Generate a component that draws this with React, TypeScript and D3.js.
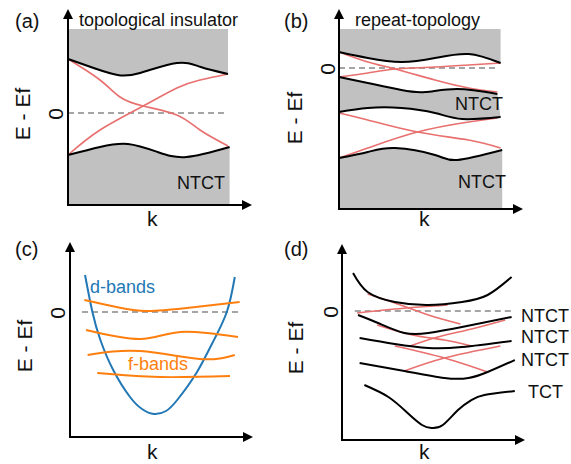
import React from 'react'
import * as d3 from 'd3'

type Pt = [number, number]

// (a) topological insulator — k from 0..10, E in units of 10px
const aUpper: Pt[] = [[0, 5.4], [1.6, 4.5], [3.1, 3.8], [4.5, 4.0], [6.8, 5.0], [8.3, 4.6], [10, 3.9]]
const aLower: Pt[] = [[0, -4.2], [2, -3.4], [3.75, -3.1], [5.6, -3.9], [7.4, -4.4], [10.1, -3.4]]
const aRed1: Pt[] = [[0, 5.4], [2, 3.3], [3.25, 1.6], [4.7, 0.7], [6.8, -0.2], [8.25, -1.7], [10, -3.3]]
const aRed2: Pt[] = [[0, -4.2], [2, -1.7], [4.7, 0.7], [6.8, 2.5], [8.25, 3.3], [10, 3.9]]

// (b) repeat-topology
const bBand1: Pt[] = [[0, 1.6], [1.8, 1.0], [3.9, 0.6], [6, 1.0], [8.1, 1.4], [10.1, 0.5]]
const bBand2: Pt[] = [[0, -0.9], [1.8, -1.5], [3.9, -2.2], [5.4, -2.4], [7.4, -2.1], [9.9, -2.6]]
const bBand3: Pt[] = [[0, -4.4], [1.8, -4.0], [3.9, -4.0], [6, -4.5], [7.7, -5.1], [10.1, -4.9]]
const bBand4: Pt[] = [[0, -9.0], [1.8, -8.4], [3.5, -8.0], [6, -8.7], [7.4, -9.2], [10.2, -8.2]]
const bRed1: Pt[] = [[0, 1.6], [1.8, 0.6], [3.5, -0.1], [6, -1.2], [8.1, -2.0], [9.9, -2.4]]
const bRed2: Pt[] = [[0, -0.9], [1.8, -0.5], [3.5, -0.1], [6, 0.1], [8.1, 0.3], [10.1, 0.5]]
const bRed3: Pt[] = [[0, -4.5], [1.8, -5.2], [4.9, -6.4], [8.1, -7.2], [10.1, -8.0]]
const bRed4: Pt[] = [[0, -9.0], [1.8, -8.0], [4.9, -6.4], [8.1, -5.4], [9.9, -5.0]]

// (c) d-bands and f-bands
const cDBand: Pt[] = [[0.94, 3.7], [1.4, 0], [1.9, -2.8], [2.7, -5.8], [3.75, -8.5], [4.5, -9.7], [5.25, -10.2], [6.0, -9.9], [6.7, -8.8], [7.9, -6.1], [8.9, -3.1], [9.8, 0], [10.3, 3.5]]
const cFBand1: Pt[] = [[0.9, 1.2], [2.9, 0.5], [4.8, 0.1], [7.3, 0.4], [10.6, 1.0]]
const cFBand2: Pt[] = [[1, -1.8], [4.4, -2.7], [6.9, -2.0], [10.5, -2.5]]
const cFBand3: Pt[] = [[1.1, -4.3], [4.4, -3.9], [8.1, -4.7], [10.3, -4.3]]
const cFBand4: Pt[] = [[1.7, -6.1], [5.6, -6.5], [10, -6.4]]

// (d) stacked bands
const dBand1: Pt[] = [[0.69, 3.8], [1.6, 1.9], [3.3, 0.9], [5.4, 0.6], [7.5, 0.9], [9.1, 1.6], [10.6, 3.4]]
const dBand2: Pt[] = [[1, -0.4], [2.25, -1.2], [3.9, -2.2], [5.4, -2.2], [7.5, -1.6], [10.6, -0.6]]
const dBand3: Pt[] = [[1.1, -2.7], [3.3, -3.3], [5.4, -3.7], [7.5, -3.6], [10.6, -3.0]]
const dBand4: Pt[] = [[1.1, -5.2], [3.9, -6.0], [6.4, -6.7], [7.9, -6.7], [9.1, -6.1], [10.8, -4.9]]
const dBand5: Pt[] = [[1.4, -7.4], [2.9, -8.6], [4.1, -10.2], [5.0, -11.4], [5.6, -11.7], [6.3, -11.4], [7.25, -9.9], [8.1, -8.9], [8.9, -8.4], [10.8, -8.0]]
const dRed1: Pt[] = [[1.6, 1.7], [3.3, 0.8], [5.4, -0.4], [7.4, -1.3]]
const dRed2: Pt[] = [[0.94, -0.2], [3.3, 0.2], [6.6, 0.6]]
const dRed3: Pt[] = [[2.2, -1.4], [4.4, -2.4], [6.4, -2.9], [8.1, -3.5]]
const dRed4: Pt[] = [[4.25, -3.5], [6, -2.6], [8.1, -1.8], [10.2, -0.9]]
const dRed5: Pt[] = [[3.3, -3.5], [6.4, -4.7], [9.1, -6.1]]
const dRed6: Pt[] = [[3.9, -6.0], [6.4, -4.7], [9.9, -3.5]]
const dLabels = ['NTCT', 'NTCT', 'NTCT', 'TCT']

const FONT = 'Liberation Sans, Arial, sans-serif'
const GRAY = '#c1c1c1'
const RED = '#e8706f'
const BLUE = '#2277b5'
const ORANGE = '#ff7f0e'
const CURVE = d3.curveNatural

type Layout = { ax: number; zero: number; top: number; bottom: number; xEnd: number }

const makeScales = (l: Layout) => {
  const x = d3.scaleLinear().domain([0, 10]).range([l.ax, l.ax + 160])
  const y = d3.scaleLinear().domain([0, 1]).range([l.zero, l.zero - 10])
  const line = d3.line<Pt>().x(d => x(d[0])).y(d => y(d[1])).curve(CURVE)
  return { x, y, line }
}

const Axes = ({ l }: { l: Layout }) => (
  <g>
    <line x1={l.ax} y1={l.bottom} x2={l.ax} y2={l.top + 8} stroke="#000" strokeWidth={2} />
    <polygon points={`${l.ax},${l.top} ${l.ax - 5},${l.top + 10} ${l.ax + 5},${l.top + 10}`} fill="#000" />
    <line x1={l.ax - 1} y1={l.bottom} x2={l.xEnd - 8} y2={l.bottom} stroke="#000" strokeWidth={2} />
    <polygon points={`${l.xEnd},${l.bottom} ${l.xEnd - 10},${l.bottom - 5} ${l.xEnd - 10},${l.bottom + 5}`} fill="#000" />
  </g>
)

const YLabels = ({ l, ex, ey, zx }: { l: Layout; ex: number; ey: number; zx: number }) => (
  <g fontFamily={FONT} fontSize={21} fill="#111" textAnchor="middle">
    <text transform={`translate(${ex},${ey}) rotate(-90)`}>E - Ef</text>
    <text transform={`translate(${zx},${l.zero + 1}) rotate(-90)`}>0</text>
  </g>
)

const Dashed = ({ x, y, k0, k1 }: { x: any; y: any; k0: number; k1: number }) => (
  <line x1={x(k0)} x2={x(k1)} y1={y(0)} y2={y(0)} stroke="#888" strokeWidth={1.6} strokeDasharray="6,4" />
)

const PanelA = () => {
  const l: Layout = { ax: 68, zero: 113, top: 9, bottom: 205, xEnd: 252 }
  const { x, y, line } = makeScales(l)
  const topArea = d3.area<Pt>().x(d => x(d[0])).y0(y(8.4)).y1(d => y(d[1])).curve(CURVE)
  const botArea = d3.area<Pt>().x(d => x(d[0])).y0(d => y(d[1])).y1(l.bottom).curve(CURVE)
  return (
    <g>
      <path d={topArea(aUpper) || ''} fill={GRAY} />
      <path d={botArea(aLower) || ''} fill={GRAY} />
      <Dashed x={x} y={y} k0={0} k1={9.8} />
      {[aRed1, aRed2].map((d, i) => <path key={i} d={line(d) || ''} fill="none" stroke={RED} strokeWidth={1.6} />)}
      {[aUpper, aLower].map((d, i) => <path key={i} d={line(d) || ''} fill="none" stroke="#000" strokeWidth={2} />)}
      <Axes l={l} />
      <YLabels l={l} ex={30} ey={114} zx={63} />
      <g fontFamily={FONT} fill="#111">
        <text x={15} y={28} fontSize={20}>(a)</text>
        <text x={79} y={26} fontSize={18}>topological insulator</text>
        <text x={177} y={189} fontSize={18}>NTCT</text>
        <text x={147} y={226} fontSize={21}>k</text>
      </g>
    </g>
  )
}

const PanelB = () => {
  const l: Layout = { ax: 339, zero: 68, top: 9, bottom: 209, xEnd: 523 }
  const { x, y, line } = makeScales(l)
  const topArea = d3.area<Pt>().x(d => x(d[0])).y0(y(3.9)).y1(d => y(d[1])).curve(CURVE)
  const botArea = d3.area<Pt>().x(d => x(d[0])).y0(d => y(d[1])).y1(l.bottom).curve(CURVE)
  const band = (up: Pt[], low: Pt[]) => (line(up) || '') + 'L' + (line(low.slice().reverse()) || '').slice(1) + 'Z'
  return (
    <g>
      <path d={topArea(bBand1) || ''} fill={GRAY} />
      <path d={band(bBand2, bBand3)} fill={GRAY} />
      <path d={botArea(bBand4) || ''} fill={GRAY} />
      <Dashed x={x} y={y} k0={0} k1={9.9} />
      {[bRed1, bRed2, bRed3, bRed4].map((d, i) => <path key={i} d={line(d) || ''} fill="none" stroke={RED} strokeWidth={1.6} />)}
      {[bBand1, bBand2, bBand3, bBand4].map((d, i) => <path key={i} d={line(d) || ''} fill="none" stroke="#000" strokeWidth={2} />)}
      <Axes l={l} />
      <YLabels l={l} ex={302} ey={118} zx={335} />
      <g fontFamily={FONT} fill="#111">
        <text x={284} y={28} fontSize={20}>(b)</text>
        <text x={355} y={26} fontSize={18}>repeat-topology</text>
        <text x={455} y={110} fontSize={18}>NTCT</text>
        <text x={458} y={188} fontSize={18}>NTCT</text>
        <text x={419} y={226} fontSize={21}>k</text>
      </g>
    </g>
  )
}

const PanelC = () => {
  const l: Layout = { ax: 70, zero: 312, top: 242, bottom: 437, xEnd: 253 }
  const { x, y, line } = makeScales(l)
  return (
    <g>
      <Dashed x={x} y={y} k0={0.75} k1={10.5} />
      <path d={line(cDBand) || ''} fill="none" stroke={BLUE} strokeWidth={2} />
      {[cFBand1, cFBand2, cFBand3, cFBand4].map((d, i) => <path key={i} d={line(d) || ''} fill="none" stroke={ORANGE} strokeWidth={2} />)}
      <Axes l={l} />
      <YLabels l={l} ex={32} ey={346} zx={65} />
      <g fontFamily={FONT} fill="#111">
        <text x={15} y={256} fontSize={20}>(c)</text>
        <text x={90} y={293} fontSize={18} fill={BLUE}>d-bands</text>
        <text x={128} y={370} fontSize={18} fill={ORANGE}>f-bands</text>
        <text x={147} y={459} fontSize={21}>k</text>
      </g>
    </g>
  )
}

const PanelD = () => {
  const l: Layout = { ax: 342, zero: 311, top: 244, bottom: 440, xEnd: 525 }
  const { x, y, line } = makeScales(l)
  const labelY = [322, 343, 366, 398]
  return (
    <g>
      <Dashed x={x} y={y} k0={0.8} k1={10.6} />
      {[dRed1, dRed2, dRed3, dRed4, dRed5, dRed6].map((d, i) => <path key={i} d={line(d) || ''} fill="none" stroke={RED} strokeWidth={1.6} />)}
      {[dBand1, dBand2, dBand3, dBand4, dBand5].map((d, i) => <path key={i} d={line(d) || ''} fill="none" stroke="#000" strokeWidth={2} />)}
      <Axes l={l} />
      <YLabels l={l} ex={303} ey={348} zx={338} />
      <g fontFamily={FONT} fill="#111">
        <text x={284} y={256} fontSize={20}>(d)</text>
        {dLabels.map((t, i) => (
          <text key={i} x={t === 'TCT' ? 528 : 521} y={labelY[i]} fontSize={18}>{t}</text>
        ))}
        <text x={419} y={459} fontSize={21}>k</text>
      </g>
    </g>
  )
}

export default function App() {
  return (
    <svg width={571} height={464} style={{ position: 'absolute', left: 0, top: 0, background: '#fff' }}>
      <rect width={571} height={464} fill="#fff" />
      <PanelA />
      <PanelB />
      <PanelC />
      <PanelD />
    </svg>
  )
}
